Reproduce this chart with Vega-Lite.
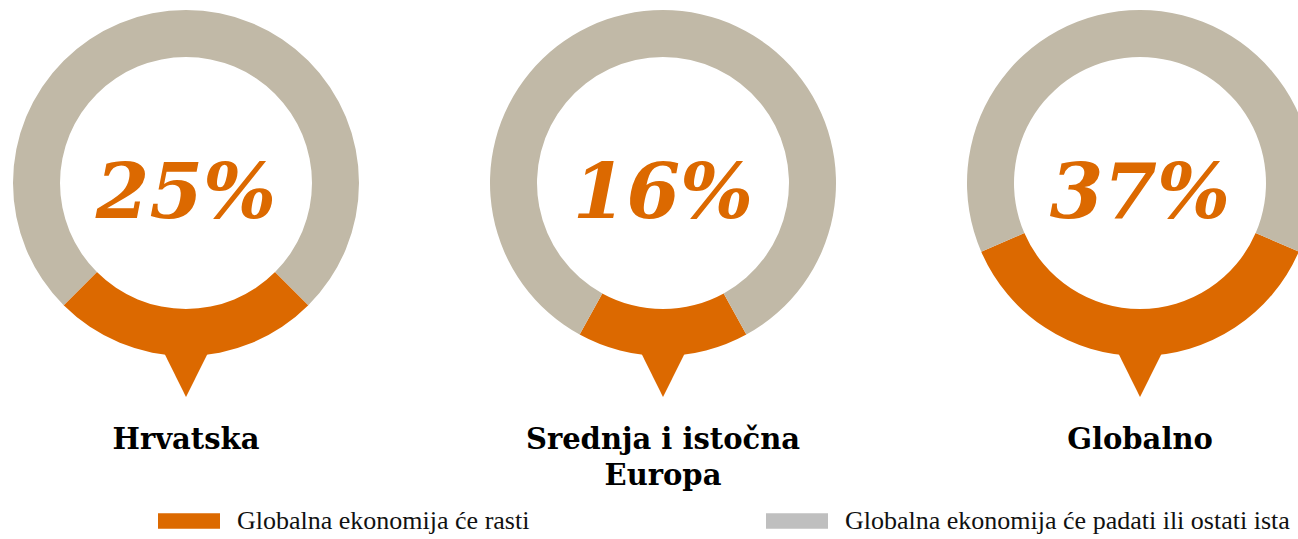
{
  "$schema": "https://vega.github.io/schema/vega-lite/v6.json",
  "padding": 0,
  "background": "white",
  "datasets": {
    "d": [
      {"region": "Hrvatska", "grp": "Globalna ekonomija će rasti", "share": 0.25},
      {"region": "Hrvatska", "grp": "Globalna ekonomija će padati ili ostati ista", "share": 0.75},
      {"region": "Srednja i istočna Europa", "grp": "Globalna ekonomija će rasti", "share": 0.16},
      {"region": "Srednja i istočna Europa", "grp": "Globalna ekonomija će padati ili ostati ista", "share": 0.84},
      {"region": "Globalno", "grp": "Globalna ekonomija će rasti", "share": 0.37},
      {"region": "Globalno", "grp": "Globalna ekonomija će padati ili ostati ista", "share": 0.63}
    ]
  },
  "spacing": 105,
  "hconcat": [
    {
      "width": 372, "height": 366,
      "title": {"text": "Hrvatska", "orient": "bottom", "anchor": "middle", "frame": "group", "offset": 25, "font": "DejaVu Serif", "fontSize": 29, "fontWeight": "bold", "color": "#000000", "lineHeight": 36},
      "data": {"name": "d"},
      "transform": [{"filter": "datum.region === 'Hrvatska'"}],
      "layer": [
        {
          "mark": {"type": "arc", "outerRadius": 173, "innerRadius": 126},
          "encoding": {
            "theta": {"field": "share", "type": "quantitative", "stack": true, "scale": {"range": [2.35619, 8.63938]}},
            "fill": {"field": "grp", "type": "nominal", "scale": {"domain": ["Globalna ekonomija će padati ili ostati ista", "Globalna ekonomija će rasti"], "range": ["#C1B9A7", "#DC6900"]}, "legend": null},
            "order": {"field": "grp", "sort": "descending"}
          }
        },
        {
          "transform": [{"filter": "datum.grp === 'Globalna ekonomija će rasti'"}],
          "mark": {"type": "text", "text": "▼", "font": "DejaVu Sans", "fontSize": 56, "color": "#DC6900", "theta": 3.14159, "radius": 190, "baseline": "middle"},
          "encoding": {}
        },
        {
          "transform": [{"filter": "datum.grp === 'Globalna ekonomija će rasti'"}],
          "mark": {"type": "text", "font": "DejaVu Serif", "fontSize": 77, "fontWeight": "bold", "fontStyle": "italic", "baseline": "alphabetic", "dy": 35},
          "encoding": {
            "text": {"field": "share", "type": "quantitative", "format": ".0%"},
            "color": {"field": "grp", "type": "nominal", "scale": {"domain": ["Globalna ekonomija će rasti", "Globalna ekonomija će padati ili ostati ista"], "range": ["#DC6900", "#BFBFBF"]},
              "legend": {"orient": "none", "legendX": 158, "legendY": 490, "direction": "horizontal", "title": null, "symbolType": "M-1,-0.25L1,-0.25L1,0.25L-1,0.25Z", "symbolSize": 3844, "symbolOpacity": 1, "symbolStrokeWidth": 0, "labelFont": "Liberation Serif", "labelFontSize": 26, "labelColor": "#111111", "labelOffset": 17, "columnPadding": 236, "labelLimit": 700}}
          }
        }
      ]
    },
    {
      "width": 372, "height": 366,
      "title": {"text": ["Srednja i istočna", "Europa"], "orient": "bottom", "anchor": "middle", "frame": "group", "offset": 25, "font": "DejaVu Serif", "fontSize": 29, "fontWeight": "bold", "color": "#000000", "lineHeight": 36},
      "data": {"name": "d"},
      "transform": [{"filter": "datum.region === 'Srednja i istočna Europa'"}],
      "layer": [
        {
          "mark": {"type": "arc", "outerRadius": 173, "innerRadius": 126},
          "encoding": {
            "theta": {"field": "share", "type": "quantitative", "stack": true, "scale": {"range": [2.63894, 8.92212]}},
            "fill": {"field": "grp", "type": "nominal", "scale": {"domain": ["Globalna ekonomija će padati ili ostati ista", "Globalna ekonomija će rasti"], "range": ["#C1B9A7", "#DC6900"]}, "legend": null},
            "order": {"field": "grp", "sort": "descending"}
          }
        },
        {
          "transform": [{"filter": "datum.grp === 'Globalna ekonomija će rasti'"}],
          "mark": {"type": "text", "text": "▼", "font": "DejaVu Sans", "fontSize": 56, "color": "#DC6900", "theta": 3.14159, "radius": 190, "baseline": "middle"},
          "encoding": {}
        },
        {
          "transform": [{"filter": "datum.grp === 'Globalna ekonomija će rasti'"}],
          "mark": {"type": "text", "font": "DejaVu Serif", "fontSize": 77, "fontWeight": "bold", "fontStyle": "italic", "baseline": "alphabetic", "dy": 35},
          "encoding": {
            "text": {"field": "share", "type": "quantitative", "format": ".0%"},
            "color": {"field": "grp", "type": "nominal", "scale": {"domain": ["Globalna ekonomija će rasti", "Globalna ekonomija će padati ili ostati ista"], "range": ["#DC6900", "#BFBFBF"]}}
          }
        }
      ]
    },
    {
      "width": 372, "height": 366,
      "title": {"text": "Globalno", "orient": "bottom", "anchor": "middle", "frame": "group", "offset": 25, "font": "DejaVu Serif", "fontSize": 29, "fontWeight": "bold", "color": "#000000", "lineHeight": 36},
      "data": {"name": "d"},
      "transform": [{"filter": "datum.region === 'Globalno'"}],
      "layer": [
        {
          "mark": {"type": "arc", "outerRadius": 173, "innerRadius": 126},
          "encoding": {
            "theta": {"field": "share", "type": "quantitative", "stack": true, "scale": {"range": [1.97920, 8.26239]}},
            "fill": {"field": "grp", "type": "nominal", "scale": {"domain": ["Globalna ekonomija će padati ili ostati ista", "Globalna ekonomija će rasti"], "range": ["#C1B9A7", "#DC6900"]}, "legend": null},
            "order": {"field": "grp", "sort": "descending"}
          }
        },
        {
          "transform": [{"filter": "datum.grp === 'Globalna ekonomija će rasti'"}],
          "mark": {"type": "text", "text": "▼", "font": "DejaVu Sans", "fontSize": 56, "color": "#DC6900", "theta": 3.14159, "radius": 190, "baseline": "middle"},
          "encoding": {}
        },
        {
          "transform": [{"filter": "datum.grp === 'Globalna ekonomija će rasti'"}],
          "mark": {"type": "text", "font": "DejaVu Serif", "fontSize": 77, "fontWeight": "bold", "fontStyle": "italic", "baseline": "alphabetic", "dy": 35},
          "encoding": {
            "text": {"field": "share", "type": "quantitative", "format": ".0%"},
            "color": {"field": "grp", "type": "nominal", "scale": {"domain": ["Globalna ekonomija će rasti", "Globalna ekonomija će padati ili ostati ista"], "range": ["#DC6900", "#BFBFBF"]}}
          }
        }
      ]
    }
  ],
  "resolve": {"scale": {"theta": "independent"}},
  "config": {"view": {"stroke": null}}
}
